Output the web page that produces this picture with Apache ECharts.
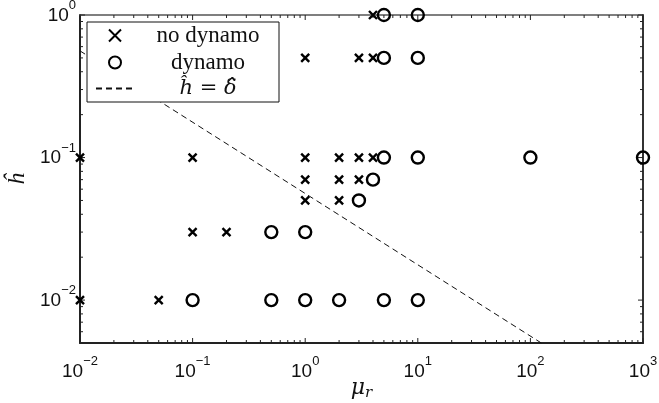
<!DOCTYPE html>
<html>
<head>
<meta charset="utf-8">
<script src="https://cdn.jsdelivr.net/npm/echarts@6/dist/echarts.min.js"></script>
<style>html,body{margin:0;padding:0;background:#fff;}#c{width:659px;height:403px;}</style>
</head>
<body>
<div id="c"></div>
<script>
// ---- data ----
const seriesNames = ['no dynamo', 'dynamo', 'ĥ = δ̂'];
const noDynamo = [
  [0.01, 0.1], [0.1, 0.1], [1, 0.1], [2, 0.1], [3, 0.1], [4, 0.1],
  [1, 0.5], [3, 0.5], [4, 0.5], [4, 1],
  [1, 0.07], [2, 0.07], [3, 0.07],
  [1, 0.05], [2, 0.05],
  [0.1, 0.03], [0.2, 0.03],
  [0.01, 0.01], [0.05, 0.01]
];
const dynamo = [
  [5, 0.1], [10, 0.1], [100, 0.1], [1000, 0.1],
  [5, 0.5], [10, 0.5], [5, 1], [10, 1],
  [4, 0.07], [3, 0.05],
  [0.5, 0.03], [1, 0.03],
  [0.1, 0.01], [0.5, 0.01], [1, 0.01], [2, 0.01], [5, 0.01], [10, 0.01]
];
const deltaLine = [[0.01, 0.56], [125, 0.005]];
const xMajor = [0.01, 0.1, 1, 10, 100, 1000];
const yMajor = [0.01, 0.1, 1];
const xRange = [0.01, 1000];
const yRange = [0.005, 1];

function minorTicks(lo, hi) {
  const out = [];
  for (let d = -3; d <= 3; d++) {
    for (let k = 2; k <= 9; k++) {
      const v = +(k * Math.pow(10, d)).toPrecision(3);
      if (v > lo * 1.0001 && v < hi * 0.9999) out.push(v);
    }
  }
  return out;
}
const xMinor = minorTicks(xRange[0], xRange[1]);
const yMinor = minorTicks(yRange[0], yRange[1]);

function expLabel(v) {
  const e = Math.round(Math.log10(v));
  return '{b|10}{s|' + (e < 0 ? '\u2212' + (-e) : e) + '}';
}
const labelRich = {
  b: { fontSize: 19, fontFamily: 'Liberation Sans', color: '#111', lineHeight: 26, verticalAlign: 'bottom' },
  s: { fontSize: 13, fontFamily: 'Liberation Sans', color: '#111', lineHeight: 14, verticalAlign: 'top' }
};

// tick marks drawn through the log scales as tiny rectangles
const MAJ = 5, MIN = 3;
function tickData() {
  const out = [];
  const addX = (v, len) => {
    out.push({ value: [v, yRange[0]], symbolSize: [1, len], symbolOffset: [0, -len / 2] });
    out.push({ value: [v, yRange[1]], symbolSize: [1, len], symbolOffset: [0, len / 2] });
  };
  const addY = (v, len) => {
    out.push({ value: [xRange[0], v], symbolSize: [len, 1], symbolOffset: [len / 2, 0] });
    out.push({ value: [xRange[1], v], symbolSize: [len, 1], symbolOffset: [-len / 2, 0] });
  };
  xMajor.forEach(v => addX(v, MAJ));
  xMinor.forEach(v => addX(v, MIN));
  yMajor.forEach(v => addY(v, MAJ));
  yMinor.forEach(v => addY(v, MIN));
  return out;
}

const chart = echarts.init(document.getElementById('c'), null, { renderer: 'canvas' });

function mkX(pos, showLabel, lineW, lineC) {
  return {
    type: 'log', gridIndex: 0, position: pos, min: xRange[0], max: xRange[1], logBase: 10,
    axisLine: { show: true, onZero: false, lineStyle: { color: lineC, width: lineW } },
    axisTick: { show: false },
    axisLabel: { show: showLabel, customValues: xMajor, margin: 12, formatter: expLabel, rich: labelRich },
    splitLine: { show: false }, minorTick: { show: false }
  };
}
function mkY(pos, showLabel, lineW, lineC) {
  return {
    type: 'log', gridIndex: 0, position: pos, min: yRange[0], max: yRange[1], logBase: 10,
    axisLine: { show: true, onZero: false, lineStyle: { color: lineC, width: lineW } },
    axisTick: { show: false },
    axisLabel: { show: showLabel, customValues: yMajor, margin: 4, formatter: expLabel, rich: labelRich, padding: [0, 0, 6, 0] },
    splitLine: { show: false }, minorTick: { show: false }
  };
}

const xAxes = [mkX('bottom', true, 2, '#222'), mkX('top', false, 1.5, '#555')];
xAxes[0].name = '{m|μ}{r|r}';
xAxes[0].nameLocation = 'middle';
xAxes[0].nameGap = 34;
xAxes[0].nameMoveOverlap = false;
xAxes[0].nameTextStyle = {
  rich: {
    m: { fontSize: 22, fontFamily: 'DejaVu Serif', fontStyle: 'italic', color: '#111', lineHeight: 24, verticalAlign: 'top' },
    r: { fontSize: 15, fontFamily: 'DejaVu Serif', fontStyle: 'italic', color: '#111', lineHeight: 20, verticalAlign: 'bottom' }
  }
};
const yAxes = [mkY('left', true, 2, '#222'), mkY('right', false, 2, '#333')];
yAxes[0].name = 'ĥ';
yAxes[0].nameLocation = 'middle';
yAxes[0].nameRotate = 90;
yAxes[0].nameGap = 50;
yAxes[0].nameMoveOverlap = false;
yAxes[0].nameTextStyle = { fontSize: 24, fontFamily: 'Liberation Serif', fontStyle: 'italic', color: '#111' };

const option = {
  backgroundColor: '#fff',
  animation: false,
  grid: { left: 80, right: 16, top: 15, bottom: 60, outerBoundsMode: 'none', containLabel: false },
  xAxis: xAxes,
  yAxis: yAxes,
  legend: {
    orient: 'vertical', left: 87, top: 22,
    backgroundColor: '#fff', borderColor: '#111', borderWidth: 1, borderRadius: 0,
    padding: [2, 2, 3, 8], itemGap: 4, itemWidth: 38, itemHeight: 12,
    data: [
      { name: seriesNames[0] },
      { name: seriesNames[1] },
      { name: seriesNames[2], itemStyle: { color: 'rgba(0,0,0,0)', borderWidth: 0, opacity: 0 } }
    ],
    formatter: function (n) { return n === seriesNames[2] ? '{d|' + n + '}' : '{c|' + n + '}'; },
    textStyle: {
      rich: {
        c: { width: 138, align: 'center', fontSize: 23, fontFamily: 'Liberation Serif', color: '#111', lineHeight: 23 },
        d: { width: 138, align: 'center', fontSize: 21, fontFamily: 'DejaVu Serif', fontStyle: 'italic', color: '#111', lineHeight: 23 }
      }
    }
  },
  series: [
    {
      name: 'ticks', type: 'scatter', xAxisIndex: 0, yAxisIndex: 0, data: tickData(), clip: false, silent: true,
      symbol: 'rect', itemStyle: { color: '#222', opacity: 1 }, z: 1, legendHoverLink: false
    },
    {
      name: seriesNames[0], type: 'scatter', xAxisIndex: 0, yAxisIndex: 0, data: noDynamo, clip: false,
      symbol: 'path://M0,0L10,10M10,0L0,10', symbolSize: 8,
      itemStyle: { color: 'rgba(0,0,0,0)', borderColor: '#000', borderWidth: 2.4, opacity: 1 }, z: 3
    },
    {
      name: seriesNames[1], type: 'scatter', xAxisIndex: 0, yAxisIndex: 0, data: dynamo, clip: false,
      symbol: 'circle', symbolSize: 12,
      itemStyle: { color: 'rgba(0,0,0,0)', borderColor: '#000', borderWidth: 2.4, opacity: 1 }, z: 3
    },
    {
      name: seriesNames[2], type: 'line', xAxisIndex: 0, yAxisIndex: 0, data: deltaLine,
      symbol: 'none', itemStyle: { color: '#111' }, lineStyle: { color: '#111', width: 1, type: [6, 4] }, z: 2
    }
  ]
};
chart.setOption(option);
</script>
</body>
</html>
